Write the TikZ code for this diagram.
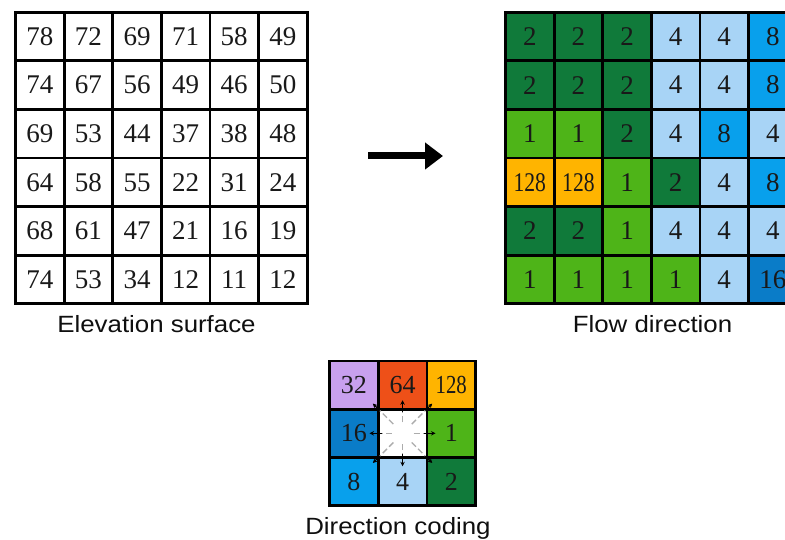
\documentclass[tikz,border=0pt]{standalone}
\usepackage{fontspec}
\usepackage{graphicx}
\setmainfont{Liberation Serif}
\newfontfamily\labelfont{Liberation Sans}
\usetikzlibrary{arrows.meta}
\definecolor{c0}{RGB}{255,255,255}
\definecolor{c1}{RGB}{78,180,24}
\definecolor{c2}{RGB}{16,122,58}
\definecolor{c4}{RGB}{168,212,246}
\definecolor{c8}{RGB}{8,160,236}
\definecolor{c16}{RGB}{10,124,200}
\definecolor{c32}{RGB}{200,160,238}
\definecolor{c64}{RGB}{238,80,24}
\definecolor{c128}{RGB}{255,180,0}
\definecolor{numcol}{RGB}{25,25,25}
\definecolor{labcol}{RGB}{15,15,15}
\newcommand\cellnum[1]{\ifnum#1>99 \scalebox{0.8}[1]{#1}\else\ifnum#1=0 \else#1\fi\fi}
\tikzset{
  cell/.style={draw=black, line width=2.8pt, minimum width=48.6pt, minimum height=48.6pt,
    inner sep=0pt, outer sep=0pt, font=\fontsize{27}{27}\selectfont, text=numcol},
  dcell/.style={cell, minimum width=48.7pt, minimum height=48.3pt, font=\fontsize{26}{26}\selectfont},
  caption/.style={anchor=base, font=\labelfont\fontsize{23.5}{24}\selectfont, text=labcol},
  ray/.style={draw=gray!65, line width=1.3pt, dash pattern=on 6pt off 3pt},
  raytip/.style={draw=black, line width=1.1pt, -{Stealth[length=4.5pt,width=4.5pt]}},
  bigarrow/.style={line width=7pt, -{Triangle[length=18pt,width=26pt]}}
}
\begin{document}
\begin{tikzpicture}[x=1pt,y=-1pt]
\useasboundingbox (0,0) rectangle (785,540);
\clip (0,0) rectangle (785,540);
\fill[white] (0,0) rectangle (785,540);
% Elevation surface
\foreach \r/\row in {1/{78,72,69,71,58,49},2/{74,67,56,49,46,50},3/{69,53,44,37,38,48},
                     4/{64,58,55,22,31,24},5/{68,61,47,21,16,19},6/{74,53,34,12,11,12}}{
  \foreach \v [count=\c] in \row {
    \node[cell, fill=white] (e-\r-\c) at ({15.5+48.6*(\c-0.5)},{12.2+48.6*(\r-0.5)}) {\v};
  }
}
% Flow direction
\foreach \r/\row in {1/{2,2,2,4,4,8},2/{2,2,2,4,4,8},3/{1,1,2,4,8,4},
                     4/{128,128,1,2,4,8},5/{2,2,1,4,4,4},6/{1,1,1,1,4,16}}{
  \foreach \v [count=\c] in \row {
    \node[cell, fill=c\v] (f-\r-\c) at ({505.5+48.6*(\c-0.5)},{12.2+48.6*(\r-0.5)}) {\cellnum{\v}};
  }
}
% Direction coding
\foreach \r/\row in {1/{32,64,128},2/{16,0,1},3/{8,4,2}}{
  \foreach \v [count=\c] in \row {
    \node[dcell, fill=c\v] (d-\r-\c) at ({329.5+48.7*(\c-0.5)},{361+48.2*(\r-0.5)}) {\cellnum{\v}};
  }
}
\coordinate (dc) at (d-2-2.center);
\foreach \a in {0,90,180,270}{
  \draw[ray] ([shift={(\a:11)}]dc) -- ([shift={(\a:22)}]dc);
  \draw[raytip] ([shift={(\a:21)}]dc) -- ([shift={(\a:33)}]dc);
}
\foreach \a in {45,135,225,315}{
  \draw[ray] ([shift={(\a:13)}]dc) -- ([shift={(\a:32)}]dc);
  \draw[raytip] ([shift={(\a:33)}]dc) -- ([shift={(\a:42)}]dc);
}
% Captions
\node[caption] (capE) at (156.5,332) {\scalebox{1.1}[1]{Elevation surface}};
\node[caption] (capF) at (652.5,332) {\scalebox{1.1}[1]{Flow direction}};
\node[caption] (capD) at (398,534.5) {\scalebox{1.1}[1]{Direction coding}};
% Big arrow
\coordinate (arrS) at (368,156);
\coordinate (arrE) at (443,156);
\draw[bigarrow] (arrS) -- (arrE);
\end{tikzpicture}
\end{document}
